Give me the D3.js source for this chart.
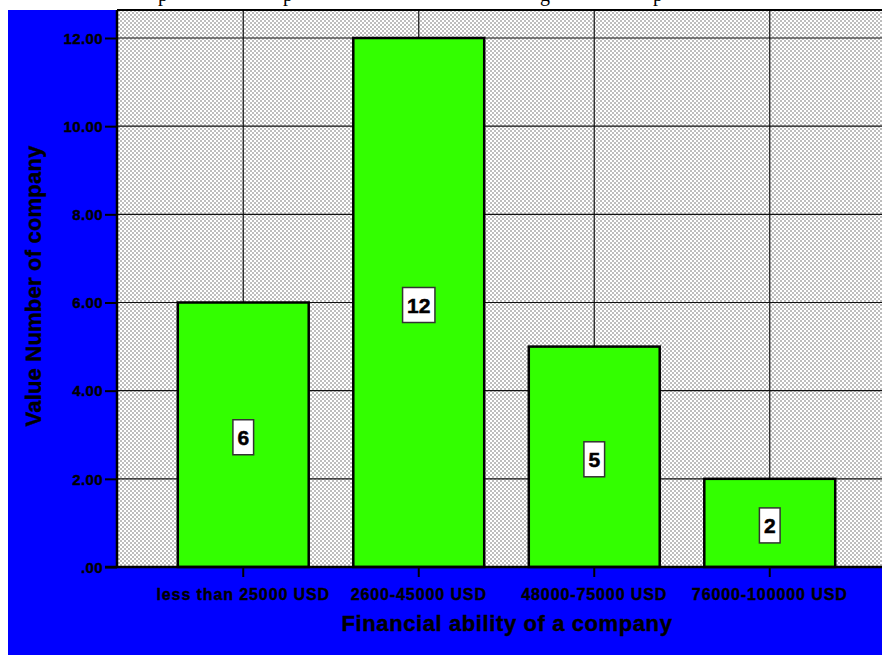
<!DOCTYPE html>
<html><head><meta charset="utf-8">
<script src="https://cdn.jsdelivr.net/npm/d3@7/dist/d3.min.js"></script>
<style>html,body{margin:0;padding:0;background:#fff;overflow:hidden}</style>
</head><body>
<svg id="chart" width="882" height="655"></svg>
<script>
const categories = ["less than 25000 USD", "2600-45000 USD", "48000-75000 USD", "76000-100000 USD"];
const values = [6, 12, 5, 2];
const yTicks = [0, 2, 4, 6, 8, 10, 12];
const yTickLabels = [".00", "2.00", "4.00", "6.00", "8.00", "10.00", "12.00"];
const xTitle = "Financial ability of a company";
const yTitle = "Value Number of company";
const topGlyphs = [{t:"p", x:158}, {t:"p", x:283}, {t:"g", x:540}, {t:"p", x:653}];

const svg = d3.select("#chart");
const W = 882, H = 655;
const plot = {left:117, right:882, top:10, bottom:567};

// stipple pattern
const defs = svg.append("defs");
const pat = defs.append("pattern").attr("id","stip").attr("patternUnits","userSpaceOnUse")
  .attr("width",4).attr("height",4);
pat.append("rect").attr("width",4).attr("height",4).attr("fill","#ffffff");
pat.append("rect").attr("x",0).attr("y",0).attr("width",2).attr("height",2).attr("fill","#bdbdbd");
pat.append("rect").attr("x",2).attr("y",2).attr("width",2).attr("height",2).attr("fill","#bdbdbd");

// top cut-off title glyphs (as in reference, only descenders visible)
svg.selectAll("text.topg").data(topGlyphs).join("text").attr("class","topg")
  .attr("x", d=>d.x).attr("y", 0.5)
  .attr("font-family","'Liberation Serif', 'Times New Roman', serif").attr("font-size",20)
  .attr("fill","#000").text(d=>d.t);

// blue background
svg.append("rect").attr("x",8).attr("y",10).attr("width",W-8).attr("height",H-10).attr("fill","#0000ff");

// plot area
svg.append("rect").attr("x",plot.left).attr("y",plot.top)
  .attr("width",plot.right-plot.left).attr("height",plot.bottom-plot.top).attr("fill","url(#stip)");

const y = d3.scaleLinear().domain([0,12]).range([plot.bottom, 38]);
const x = d3.scaleBand().domain(categories).range([155.5, 857.5]).paddingInner(0.254).paddingOuter(0.127);

// gridlines
svg.append("g").selectAll("line").data(yTicks.filter(d=>d>0)).join("line")
  .attr("x1",plot.left).attr("x2",plot.right).attr("y1",d=>y(d)).attr("y2",d=>y(d))
  .attr("stroke","#111").attr("stroke-width",1.2);
svg.append("g").selectAll("line").data(categories).join("line")
  .attr("x1",d=>x(d)+x.bandwidth()/2).attr("x2",d=>x(d)+x.bandwidth()/2)
  .attr("y1",plot.top).attr("y2",plot.bottom)
  .attr("stroke","#111").attr("stroke-width",1.2);

// bars
svg.append("g").selectAll("rect").data(values).join("rect")
  .attr("x",(d,i)=>x(categories[i])).attr("width",x.bandwidth())
  .attr("y",d=>y(d)).attr("height",d=>y(0)-y(d))
  .attr("fill","#33ff00").attr("stroke","#000").attr("stroke-width",2.5);

// plot border (top)
svg.append("line").attr("x1",plot.left).attr("x2",plot.right).attr("y1",plot.top).attr("y2",plot.top)
  .attr("stroke","#000").attr("stroke-width",2);

const fontSans = "'Liberation Sans', Arial, sans-serif";

// y axis
const yAxis = d3.axisLeft(y).tickValues(yTicks).tickSize(12).tickPadding(2)
  .tickFormat((d,i)=>yTickLabels[i]);
const gy = svg.append("g").attr("transform",`translate(${plot.left},0)`).call(yAxis);
gy.select(".domain").attr("stroke","#000").attr("stroke-width",2.5)
  .attr("d",`M0,${plot.top}V${plot.bottom}`);
gy.selectAll(".tick line").attr("stroke","#000").attr("stroke-width",2);
gy.selectAll(".tick text").attr("font-family",fontSans)
  .attr("font-weight","bold").attr("font-size",15).attr("letter-spacing",0.4).attr("fill","#000")
  .attr("stroke","#000").attr("stroke-width",0.4).attr("dy","0.35em");

// x axis
const xAxis = d3.axisBottom(x).tickSize(10).tickPadding(12);
const gx = svg.append("g").attr("transform",`translate(0,${plot.bottom})`).call(xAxis);
gx.select(".domain").attr("stroke","#000").attr("stroke-width",2.5)
  .attr("d",`M105,0H${plot.right}`);
gx.selectAll(".tick line").attr("stroke","#000").attr("stroke-width",2);
gx.selectAll(".tick text").attr("font-family",fontSans)
  .attr("font-weight","bold").attr("font-size",16).attr("letter-spacing",0.9).attr("fill","#000")
  .attr("stroke","#000").attr("stroke-width",0.4);

// value labels
const lab = svg.append("g").selectAll("g").data(values).join("g")
  .attr("transform",(d,i)=>`translate(${x(categories[i])+x.bandwidth()/2},${(y(d)+y(0))/2+2.5})`);
lab.each(function(d){
  const g = d3.select(this);
  const t = g.append("text").attr("text-anchor","middle").attr("dy","0.36em")
    .attr("font-family",fontSans).attr("font-weight","bold")
    .attr("font-size",21).attr("fill","#000").attr("stroke","#000").attr("stroke-width",0.5).text(d);
  const w = t.node().getComputedTextLength() + 9;
  g.insert("rect","text").attr("x",-w/2).attr("y",-17.5).attr("width",w).attr("height",35)
    .attr("fill","#fff").attr("stroke","#333").attr("stroke-width",1.5);
});

// axis titles
svg.append("text").attr("x",507).attr("y",631).attr("text-anchor","middle")
  .attr("font-family",fontSans).attr("font-weight","bold")
  .attr("font-size",22).attr("letter-spacing",0.6).attr("fill","#000")
  .attr("stroke","#000").attr("stroke-width",0.4).text(xTitle);
svg.append("text").attr("transform","translate(41,286) rotate(-90)").attr("text-anchor","middle")
  .attr("font-family",fontSans).attr("font-weight","bold")
  .attr("font-size",22).attr("letter-spacing",0.2).attr("fill","#000")
  .attr("stroke","#000").attr("stroke-width",0.4).text(yTitle);
</script>
</body></html>
